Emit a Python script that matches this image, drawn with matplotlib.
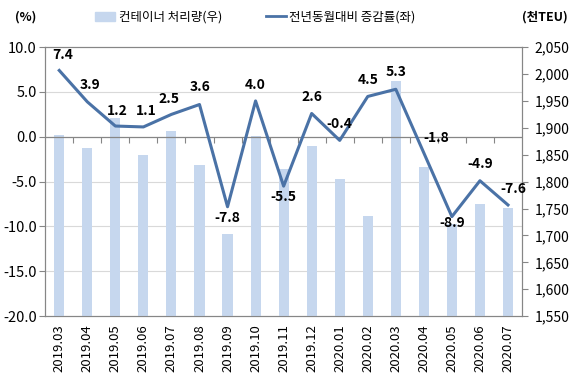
import numpy as np
import matplotlib
matplotlib.use('Agg')
import matplotlib.pyplot as plt
from matplotlib.ticker import FuncFormatter, MultipleLocator
from matplotlib.patches import Patch
from matplotlib.lines import Line2D

plt.rcParams['font.family'] = ['Noto Sans CJK KR', 'DejaVu Sans']

# data
months = ['2019.03', '2019.04', '2019.05', '2019.06', '2019.07', '2019.08',
          '2019.09', '2019.10', '2019.11', '2019.12', '2020.01', '2020.02',
          '2020.03', '2020.04', '2020.05', '2020.06', '2020.07']
throughput = [1886, 1862, 1918, 1849, 1895, 1830, 1703, 1885, 1824, 1866,
              1804, 1736, 1987, 1828, 1722, 1758, 1751]   # 천TEU (right axis)
yoy = [7.4, 3.9, 1.2, 1.1, 2.5, 3.6, -7.8, 4.0, -5.5, 2.6, -0.4, 4.5, 5.3,
       -1.8, -8.9, -4.9, -7.6]                              # % (left axis)

# label offsets in pixels (dx, dy) relative to the line point
label_offsets = [(3, 15), (3, 17), (2, 15), (3, 16), (-2, 15), (1, 18),
                 (0, -11), (0, 16), (0, -11), (0, 16), (0, 16), (0, 16),
                 (0, 17), (12, 15), (0, -6), (0, 17), (5, 16)]

bar_color = '#c6d7ee'
line_color = '#4a72a6'
axis_gray = '#868686'

fig = plt.figure(figsize=(5.8, 3.8), dpi=100)
ax = fig.add_axes([0.078, 0.168, 0.822, 0.708])
x = np.arange(len(months))

# left axis: grid + ticks (bottom layer)
ax.set_ylim(-20, 10)
ax.set_xlim(-0.5, len(months) - 0.5)
ax.yaxis.set_major_locator(MultipleLocator(5))
ax.yaxis.set_major_formatter(FuncFormatter(lambda v, p: f'{v:.1f}'))
for v in [-15, -10, -5, 5]:
    ax.axhline(v, color='#d9d9d9', lw=0.8, zorder=0)
ax.set_xticks(x)
ax.set_xticklabels(months, rotation=90, fontsize=9.5)
ax.tick_params(axis='x', length=0, pad=6)
ax.tick_params(axis='y', length=4, color=axis_gray, labelsize=10.5, pad=2)
for s in ax.spines.values():
    s.set_color(axis_gray)
    s.set_linewidth(0.8)

# right axis: bars
ax2 = ax.twinx()
ax2.bar(x, throughput, width=0.36, color=bar_color, zorder=1)
ax2.set_ylim(1550, 2050)
ax2.yaxis.set_major_locator(MultipleLocator(50))
ax2.yaxis.set_major_formatter(FuncFormatter(lambda v, p: f'{int(v):,}'))
ax2.tick_params(axis='y', length=4, color=axis_gray, labelsize=10, pad=5)
for s in ax2.spines.values():
    s.set_color(axis_gray)
    s.set_linewidth(0.8)

# top layer: zero axis and line, left scale
ax3 = ax.twinx()
ax3.set_ylim(ax.get_ylim())
ax3.axis('off')
ax3.axhline(0, color=axis_gray, lw=0.9)
ax3.vlines(np.arange(len(months) - 1) + 0.5, -0.65, 0, color=axis_gray, lw=0.8)
ax3.plot(x, yoy, color=line_color, lw=2.2)
for xi, v, (dx, dy) in zip(x, yoy, label_offsets):
    ax3.annotate(f'{v:.1f}', (xi, v), xytext=(dx, dy), textcoords='offset pixels',
                 ha='center', va='center', fontsize=10, fontweight='bold')

# legend and unit labels
handles = [Patch(color=bar_color), Line2D([], [], color=line_color, lw=2)]
fig.legend(handles, ['컨테이너 처리량(우)', '전년동월대비 증감률(좌)'], loc='center',
           bbox_to_anchor=(0.44, 0.955), ncol=2, frameon=False, fontsize=9,
           handlelength=1.6, handleheight=0.7, columnspacing=3.5, handletextpad=0.3)
fig.text(0.045, 0.955, '(%)', ha='center', va='center', fontsize=9, fontweight='bold')
fig.text(0.94, 0.955, '(천TEU)', ha='center', va='center', fontsize=9, fontweight='bold')

fig.savefig('out.png', dpi=100)
